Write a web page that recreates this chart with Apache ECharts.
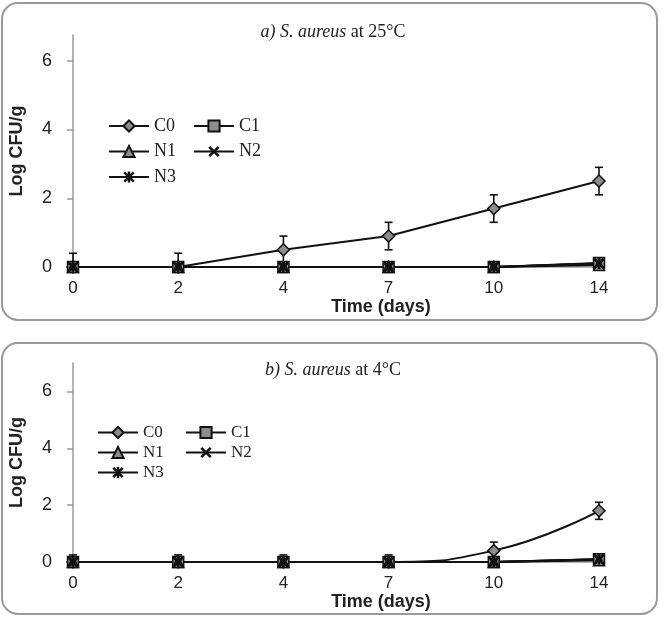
<!DOCTYPE html>
<html>
<head>
<meta charset="utf-8">
<title>S. aureus growth</title>
<script src="https://cdn.jsdelivr.net/npm/echarts@6/dist/echarts.min.js"></script>
<style>
  html, body { margin: 0; padding: 0; background: #fff; }
  #main { width: 664px; height: 617px; }
</style>
</head>
<body>
<div id="main"></div>
<script>
// time points (days)
const days = ['0', '2', '4', '7', '10', '14'];

// a) 25 °C
const c0_25 = [0, 0, 0.5, 0.9, 1.7, 2.5];
const c0_25_err = [0.4, 0.4, 0.4, 0.4, 0.4, 0.4];
const c1_25 = [0, 0, 0, 0, 0, 0.12];
const n1_25 = [0, 0, 0, 0, 0, 0.06];
const n2_25 = [0, 0, 0, 0, 0, 0.1];
const n3_25 = [0, 0, 0, 0, 0, 0.1];

// b) 4 °C
const c0_4 = [0, 0, 0, 0, 0.4, 1.8];
const c0_4_err = [0.25, 0.25, 0.25, 0.25, 0.3, 0.3];
const c1_4 = [0, 0, 0, 0, 0, 0.1];
const n1_4 = [0, 0, 0, 0, 0, 0.06];
const n2_4 = [0, 0, 0, 0, 0, 0.1];
const n3_4 = [0, 0, 0, 0, 0, 0.1];

const yTicks = [0, 2, 4, 6];

const INK = '#111';
const GREY = '#8c8c8c';
const AXIS = '#9a9a9a';
const SANS = 'Liberation Sans';
const SERIF = 'Liberation Serif';

const crossPath = 'path://M0,1.6 L1.6,0 L5,3.4 L8.4,0 L10,1.6 L6.6,5 L10,8.4 L8.4,10 L5,6.6 L1.6,10 L0,8.4 L3.4,5 Z';
const starPath = 'path://M0,1.6 L1.6,0 L5,3.4 L8.4,0 L10,1.6 L6.6,5 L10,8.4 L8.4,10 L5,6.6 L1.6,10 L0,8.4 L3.4,5 Z M3.9,0 L6.1,0 L6.1,10 L3.9,10 Z';

const markers = {
  C0: { symbol: 'diamond', symbolSize: 12, itemStyle: { color: GREY, borderColor: INK, borderWidth: 1.5 } },
  C1: { symbol: 'rect', symbolSize: 11, itemStyle: { color: GREY, borderColor: INK, borderWidth: 1.5 } },
  N1: { symbol: 'triangle', symbolSize: 11, itemStyle: { color: GREY, borderColor: INK, borderWidth: 1.5 } },
  N2: { symbol: crossPath, symbolSize: 11, itemStyle: { color: INK, borderWidth: 0 } },
  N3: { symbol: starPath, symbolSize: 11, itemStyle: { color: INK, borderWidth: 0 } }
};

function lineSeries(name, data, idx, smooth) {
  return Object.assign({
    name: name,
    type: 'line',
    xAxisIndex: idx,
    yAxisIndex: idx,
    data: data,
    smooth: smooth || false,
    showAllSymbol: true,
    lineStyle: { color: INK, width: 2 },
    z: 3
  }, markers[name]);
}

function errorSeries(values, errs, idx) {
  return {
    type: 'custom',
    xAxisIndex: idx,
    yAxisIndex: idx,
    z: 2,
    silent: true,
    data: values.map((v, i) => [i, v, errs[i]]),
    encode: { x: 0, y: 1 },
    renderItem: function (params, api) {
      const x = api.value(0), y = api.value(1), e = api.value(2);
      const hi = api.coord([x, y + e]);
      const lo = api.coord([x, Math.max(0, y - e)]);
      const w = 4;
      const style = { stroke: INK, lineWidth: 1.6 };
      const kids = [
        { type: 'line', shape: { x1: hi[0], y1: hi[1], x2: lo[0], y2: lo[1] }, style: style },
        { type: 'line', shape: { x1: hi[0] - w, y1: hi[1], x2: hi[0] + w, y2: hi[1] }, style: style }
      ];
      if (y - e > 0) {
        kids.push({ type: 'line', shape: { x1: lo[0] - w, y1: lo[1], x2: lo[0] + w, y2: lo[1] }, style: style });
      }
      return { type: 'group', children: kids };
    }
  };
}

function xAxisFor(idx) {
  return {
    type: 'category',
    gridIndex: idx,
    data: days,
    boundaryGap: false,
    axisLine: { show: true, lineStyle: { color: AXIS, width: 1.5 } },
    axisTick: { show: false },
    axisLabel: { margin: 13, fontFamily: SANS, fontSize: 17, color: '#222' },
    splitLine: { show: false }
  };
}

function yAxisFor(idx, max) {
  return {
    type: 'value',
    gridIndex: idx,
    min: 0,
    max: max,
    interval: 2,
    name: 'Log CFU/g',
    nameLocation: 'middle',
    nameGap: 47,
    nameTextStyle: { fontFamily: SANS, fontWeight: 'bold', fontSize: 18, color: '#222' },
    axisLine: { show: true, lineStyle: { color: AXIS, width: 1.5 } },
    axisTick: { show: true, length: 6, customValues: yTicks, lineStyle: { color: AXIS, width: 1.5 } },
    axisLabel: {
      margin: 21, fontFamily: SANS, fontSize: 18, color: '#222',
      customValues: yTicks
    },
    splitLine: { show: false }
  };
}

function legendCol(names, left, top, gap, size) {
  return {
    data: names,
    orient: 'vertical',
    left: left,
    top: top,
    padding: 0,
    itemWidth: 40,
    itemHeight: 14,
    itemGap: gap,
    selectedMode: false,
    textStyle: { fontFamily: SERIF, fontSize: size, color: '#222' }
  };
}

function titleText(y, label, rest) {
  return {
    type: 'text',
    x: 333,
    y: y,
    style: {
      text: '{i|' + label + '} ' + rest,
      rich: { i: { fontFamily: SERIF, fontStyle: 'italic', fontSize: 18, fill: '#222' } },
      fontFamily: SERIF,
      fontSize: 18,
      fill: '#222',
      align: 'center',
      verticalAlign: 'middle'
    }
  };
}

function xTitle(y) {
  return {
    type: 'text',
    x: 381,
    y: y,
    style: {
      text: 'Time (days)',
      fontFamily: SANS,
      fontWeight: 'bold',
      fontSize: 18,
      fill: '#222',
      align: 'center',
      verticalAlign: 'middle'
    }
  };
}

let option = {
  animation: false,
  backgroundColor: '#fff',
  grid: [
    { left: 69, top: 35, width: 530, height: 232 },
    { left: 69, top: 363, width: 530, height: 199 }
  ],
  xAxis: [xAxisFor(0), xAxisFor(1)],
  yAxis: [yAxisFor(0, 6.75), yAxisFor(1, 7)],
  legend: [
    legendCol(['C0', 'N1', 'N3'], 108, 117, 7.5, 18),
    legendCol(['C1', 'N2'], 193, 117, 7.5, 18),
    legendCol(['C0', 'N1', 'N3'], 97, 424, 3, 17),
    legendCol(['C1', 'N2'], 185, 424, 3, 17)
  ],
  graphic: [
    { type: 'rect', shape: { x: 2, y: 3, width: 655, height: 317, r: 16 }, style: { fill: 'none', stroke: AXIS, lineWidth: 2 }, z: -10 },
    { type: 'rect', shape: { x: 2, y: 343, width: 655, height: 271, r: 16 }, style: { fill: 'none', stroke: AXIS, lineWidth: 2 }, z: -10 },
    titleText(32, 'a) S. aureus', 'at 25°C'),
    titleText(370, 'b) S. aureus', 'at 4°C'),
    xTitle(307),
    xTitle(602)
  ],
  series: [
    errorSeries(c0_25, c0_25_err, 0),
    lineSeries('C0', c0_25, 0),
    lineSeries('C1', c1_25, 0),
    lineSeries('N1', n1_25, 0),
    lineSeries('N2', n2_25, 0),
    lineSeries('N3', n3_25, 0),
    errorSeries(c0_4, c0_4_err, 1),
    lineSeries('C0', c0_4, 1, true),
    lineSeries('C1', c1_4, 1),
    lineSeries('N1', n1_4, 1),
    lineSeries('N2', n2_4, 1),
    lineSeries('N3', n3_4, 1)
  ]
};

const chart = echarts.init(document.getElementById('main'));
chart.setOption(option, true);
</script>
</body>
</html>
